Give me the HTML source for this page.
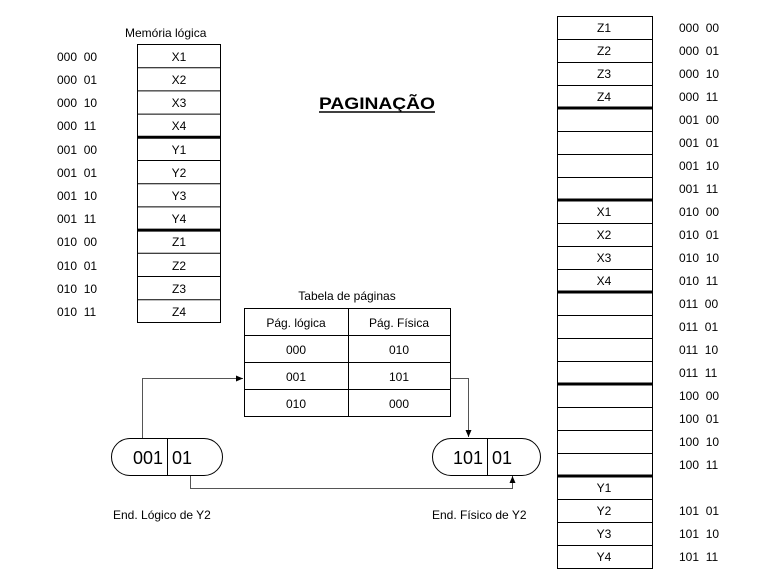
<!DOCTYPE html>
<html><head><meta charset="utf-8"><style>
html,body{margin:0;padding:0;background:#fff}
svg{display:block}
text{font-family:"Liberation Sans",Arial,sans-serif;fill:#000}
</style></head><body>
<svg width="768" height="576" viewBox="0 0 768 576" xmlns="http://www.w3.org/2000/svg">
<defs><marker id="a" markerWidth="8" markerHeight="8" refX="7" refY="4" orient="auto" markerUnits="userSpaceOnUse"><path d="M0,1 L7,4 L0,7 z" fill="#000"/></marker></defs>
<text x="125" y="37" font-size="12">Memória lógica</text>
<g font-size="12">
<rect x="137.5" y="44.5" width="83" height="278" fill="none" stroke="#000"/>
<g stroke="#000" stroke-width="1">
<line x1="137" y1="67.7" x2="221" y2="67.7"/><line x1="137" y1="90.9" x2="221" y2="90.9"/><line x1="137" y1="114.1" x2="221" y2="114.1"/>
<line x1="137" y1="160.5" x2="221" y2="160.5"/><line x1="137" y1="183.7" x2="221" y2="183.7"/><line x1="137" y1="206.9" x2="221" y2="206.9"/>
<line x1="137" y1="253.3" x2="221" y2="253.3"/><line x1="137" y1="276.5" x2="221" y2="276.5"/><line x1="137" y1="299.7" x2="221" y2="299.7"/>
</g>
<line x1="137" y1="137.3" x2="221" y2="137.3" stroke="#000" stroke-width="3"/>
<line x1="137" y1="230.1" x2="221" y2="230.1" stroke="#000" stroke-width="3"/>
<g text-anchor="middle">
<text x="179" y="61">X1</text><text x="179" y="84">X2</text><text x="179" y="107">X3</text><text x="179" y="130">X4</text>
<text x="179" y="154">Y1</text><text x="179" y="177">Y2</text><text x="179" y="200">Y3</text><text x="179" y="223">Y4</text>
<text x="179" y="246">Z1</text><text x="179" y="270">Z2</text><text x="179" y="293">Z3</text><text x="179" y="316">Z4</text>
</g>
<text x="57" y="61">000&#160;&#160;00</text><text x="57" y="84">000&#160;&#160;01</text><text x="57" y="107">000&#160;&#160;10</text><text x="57" y="130">000&#160;&#160;11</text>
<text x="57" y="154">001&#160;&#160;00</text><text x="57" y="177">001&#160;&#160;01</text><text x="57" y="200">001&#160;&#160;10</text><text x="57" y="223">001&#160;&#160;11</text>
<text x="57" y="246">010&#160;&#160;00</text><text x="57" y="270">010&#160;&#160;01</text><text x="57" y="293">010&#160;&#160;10</text><text x="57" y="316">010&#160;&#160;11</text>
</g>
<text x="319" y="109" font-size="17" font-weight="bold" textLength="116" lengthAdjust="spacingAndGlyphs">PAGINAÇÃO</text>
<line x1="319" y1="112" x2="435" y2="112" stroke="#000" stroke-width="1.5"/>

<g font-size="12">
<rect x="557.5" y="16.5" width="95" height="552" fill="none" stroke="#000"/>
<g stroke="#000">
<line x1="557" y1="39.5" x2="652" y2="39.5"/><line x1="557" y1="62.5" x2="652" y2="62.5"/><line x1="557" y1="85.5" x2="652" y2="85.5"/>
<line x1="557" y1="131.5" x2="652" y2="131.5"/><line x1="557" y1="154.5" x2="652" y2="154.5"/><line x1="557" y1="177.5" x2="652" y2="177.5"/>
<line x1="557" y1="223.5" x2="652" y2="223.5"/><line x1="557" y1="246.5" x2="652" y2="246.5"/><line x1="557" y1="269.5" x2="652" y2="269.5"/>
<line x1="557" y1="315.5" x2="652" y2="315.5"/><line x1="557" y1="338.5" x2="652" y2="338.5"/><line x1="557" y1="361.5" x2="652" y2="361.5"/>
<line x1="557" y1="407.5" x2="652" y2="407.5"/><line x1="557" y1="430.5" x2="652" y2="430.5"/><line x1="557" y1="453.5" x2="652" y2="453.5"/>
<line x1="557" y1="499.5" x2="652" y2="499.5"/><line x1="557" y1="522.5" x2="652" y2="522.5"/><line x1="557" y1="545.5" x2="652" y2="545.5"/>
</g>
<g stroke="#000" stroke-width="3">
<line x1="557" y1="108" x2="652" y2="108"/><line x1="557" y1="200" x2="652" y2="200"/><line x1="557" y1="292" x2="652" y2="292"/><line x1="557" y1="384" x2="652" y2="384"/><line x1="557" y1="476" x2="652" y2="476"/>
</g>
<g text-anchor="middle">
<text x="604" y="32">Z1</text><text x="604" y="55">Z2</text><text x="604" y="78">Z3</text><text x="604" y="101">Z4</text>
<text x="604" y="216">X1</text><text x="604" y="239">X2</text><text x="604" y="262">X3</text><text x="604" y="285">X4</text>
<text x="604" y="492">Y1</text><text x="604" y="515">Y2</text><text x="604" y="538">Y3</text><text x="604" y="561">Y4</text>
</g>
<g>
<text x="679" y="32">000&#160;&#160;00</text><text x="679" y="55">000&#160;&#160;01</text><text x="679" y="78">000&#160;&#160;10</text><text x="679" y="101">000&#160;&#160;11</text>
<text x="679" y="124">001&#160;&#160;00</text><text x="679" y="147">001&#160;&#160;01</text><text x="679" y="170">001&#160;&#160;10</text><text x="679" y="193">001&#160;&#160;11</text>
<text x="679" y="216">010&#160;&#160;00</text><text x="679" y="239">010&#160;&#160;01</text><text x="679" y="262">010&#160;&#160;10</text><text x="679" y="285">010&#160;&#160;11</text>
<text x="679" y="308">011&#160;&#160;00</text><text x="679" y="331">011&#160;&#160;01</text><text x="679" y="354">011&#160;&#160;10</text><text x="679" y="377">011&#160;&#160;11</text>
<text x="679" y="400">100&#160;&#160;00</text><text x="679" y="423">100&#160;&#160;01</text><text x="679" y="446">100&#160;&#160;10</text><text x="679" y="469">100&#160;&#160;11</text>
<text x="679" y="515">101&#160;&#160;01</text><text x="679" y="538">101&#160;&#160;10</text><text x="679" y="561">101&#160;&#160;11</text>
</g>
</g>

<g font-size="12" text-anchor="middle">
<text x="347" y="300">Tabela de páginas</text>
<rect x="244.5" y="308.5" width="206" height="108" fill="none" stroke="#000"/>
<line x1="244" y1="335.5" x2="451" y2="335.5" stroke="#000"/>
<line x1="244" y1="362.5" x2="451" y2="362.5" stroke="#000"/>
<line x1="244" y1="389.5" x2="451" y2="389.5" stroke="#000"/>
<line x1="348.5" y1="308" x2="348.5" y2="417" stroke="#000"/>
<text x="296" y="327">Pág. lógica</text><text x="399" y="327">Pág. Física</text>
<text x="296" y="354">000</text><text x="399" y="354">010</text>
<text x="296" y="381">001</text><text x="399" y="381">101</text>
<text x="296" y="408">010</text><text x="399" y="408">000</text>
</g>

<g fill="none" stroke="#555" stroke-width="1">
<polyline points="142.5,438 142.5,378.5 243,378.5" marker-end="url(#a)"/>
<polyline points="451,378.5 468.5,378.5 468.5,437" marker-end="url(#a)"/>
<polyline points="190.5,475 190.5,488.5 512.5,488.5 512.5,476" marker-end="url(#a)"/>
</g>

<rect x="111.5" y="438.5" width="111" height="37" rx="18.5" fill="#fff" stroke="#000"/>
<line x1="167.5" y1="438" x2="167.5" y2="476" stroke="#000"/>
<text x="163" y="464" font-size="18" text-anchor="end">001</text>
<text x="172" y="464" font-size="18">01</text>
<rect x="432.5" y="438.5" width="108" height="37" rx="18.5" fill="#fff" stroke="#000"/>
<line x1="487.5" y1="438" x2="487.5" y2="476" stroke="#000"/>
<text x="483" y="464" font-size="18" text-anchor="end">101</text>
<text x="492" y="464" font-size="18">01</text>

<text x="113" y="519" font-size="12">End. Lógico de Y2</text>
<text x="432" y="519" font-size="12">End. Físico de Y2</text>
</svg>
</body></html>
